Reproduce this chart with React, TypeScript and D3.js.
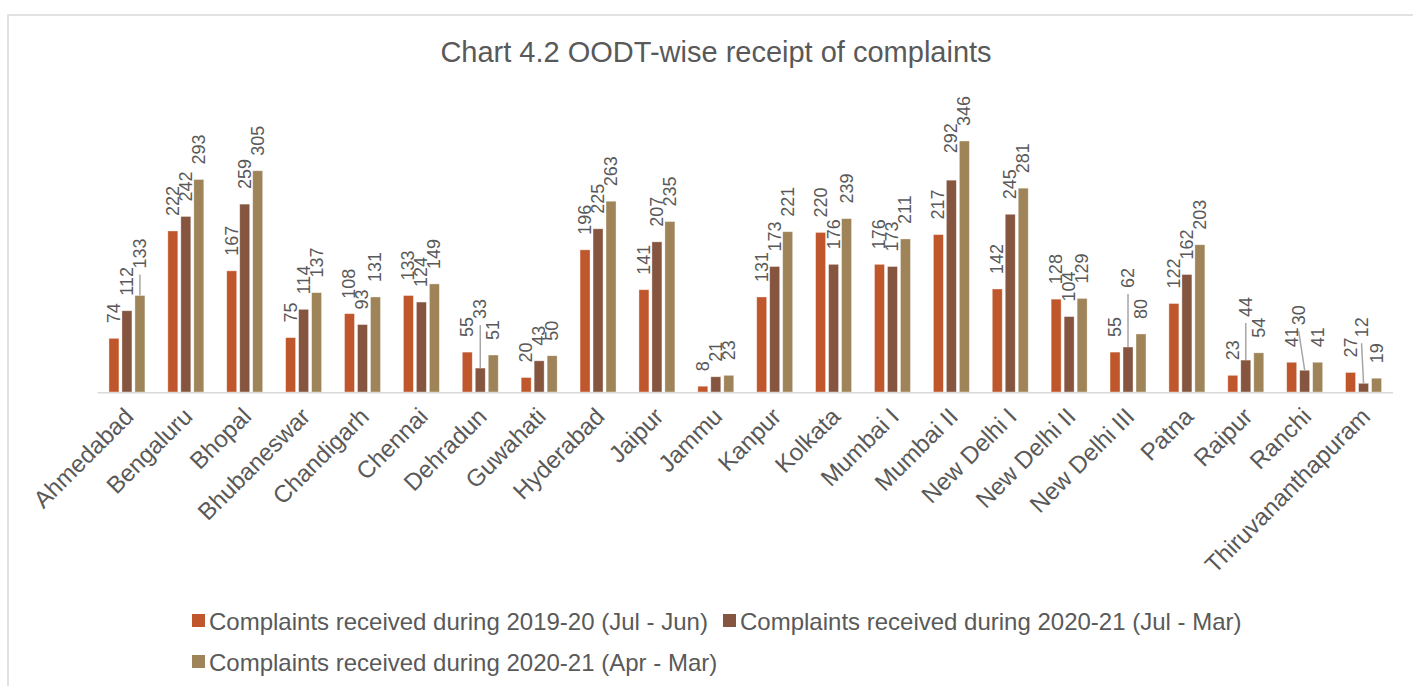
import React from "react";
import * as d3 from "d3";

const categories = [
  "Ahmedabad", "Bengaluru", "Bhopal", "Bhubaneswar", "Chandigarh", "Chennai",
  "Dehradun", "Guwahati", "Hyderabad", "Jaipur", "Jammu", "Kanpur", "Kolkata",
  "Mumbai I", "Mumbai II", "New Delhi I", "New Delhi II", "New Delhi III",
  "Patna", "Raipur", "Ranchi", "Thiruvananthapuram",
];

const seriesNames = [
  "Complaints received during 2019-20 (Jul - Jun)",
  "Complaints received during 2020-21 (Jul - Mar)",
  "Complaints received during 2020-21 (Apr - Mar)",
];

const s2019 = [74, 222, 167, 75, 108, 133, 55, 20, 196, 141, 8, 131, 220, 176, 217, 142, 128, 55, 122, 23, 41, 27];
const s2020JulMar = [112, 242, 259, 114, 93, 124, 33, 43, 225, 207, 21, 173, 176, 173, 292, 245, 104, 62, 162, 44, 30, 12];
const s2020AprMar = [133, 293, 305, 137, 131, 149, 51, 50, 263, 235, 23, 221, 239, 211, 346, 281, 129, 80, 203, 54, 41, 19];

const seriesValues = [s2019, s2020JulMar, s2020AprMar];
const colors = ["#C0572C", "#85553F", "#9E8458"];

// label displacements (layout only), keyed by category and series index
const labelMoves = [
  { cat: "Ahmedabad", s: 2, lift: 12, dx: 0, line: true },
  { cat: "Dehradun", s: 1, lift: 34, dx: 0, line: true },
  { cat: "Mumbai II", s: 1, lift: 12, dx: 0, line: false },
  { cat: "New Delhi III", s: 1, lift: 44, dx: 0, line: true },
  { cat: "Raipur", s: 1, lift: 28, dx: 0, line: true },
  { cat: "Ranchi", s: 1, lift: 30, dx: -6, line: true },
  { cat: "Thiruvananthapuram", s: 1, lift: 31, dx: -2, line: true },
];

const W = 1413;
const H = 686;
const baseY = 392;
const textColor = "#595959";
const font = "'Liberation Sans', Arial, sans-serif";

export default function App() {
  const x0 = d3.scaleBand<string>().domain(categories).range([97.5, 1393]).paddingInner(0.389).paddingOuter(0.1945);
  const x1 = d3.scaleBand<number>().domain([0, 1, 2]).range([0, x0.bandwidth()]).paddingInner(0.23);
  const y = d3.scaleLinear().domain([0, 346]).range([baseY, 141]);

  const bars: React.ReactNode[] = [];
  const labels: React.ReactNode[] = [];
  categories.forEach((c, i) => {
    seriesValues.forEach((vals, s) => {
      const v = vals[i];
      const bx = (x0(c) as number) + (x1(s) as number);
      const bw = x1.bandwidth();
      const top = y(v);
      const cx = bx + bw / 2;
      bars.push(
        <rect key={`b${i}-${s}`} x={bx} y={top} width={bw} height={baseY - top}
          fill={colors[s]} stroke="#ffffff" strokeOpacity={0.5} strokeWidth={0.75} />
      );
      const mv = labelMoves.find((m) => m.cat === c && m.s === s);
      const lift = mv ? mv.lift : 0;
      const dx = mv ? mv.dx : 0;
      const ly = top - 15 - lift;
      const lx = cx + dx;
      if (mv && mv.line) {
        labels.push(
          <line key={`l${i}-${s}`} x1={cx} y1={top} x2={lx} y2={ly + 6}
            stroke="#A6A6A6" strokeWidth={1.5} />
        );
      }
      labels.push(
        <text key={`t${i}-${s}`} transform={`translate(${lx},${ly}) rotate(-90)`}
          textAnchor="start" dominantBaseline="central" fontSize={18}
          fill={textColor} fontFamily={font}>{v}</text>
      );
    });
  });

  return (
    <div style={{ position: "absolute", left: 0, top: 0 }}>
      <svg width={W} height={H} style={{ display: "block", background: "#fff" }}>
        <rect x={8} y={15} width={1500} height={800} fill="#fff" stroke="#D9D9D9" strokeWidth={1.5} />
        <text x={716} y={62} textAnchor="middle" fontSize={29} fill={textColor} fontFamily={font}>
          Chart 4.2 OODT-wise receipt of complaints
        </text>
        {bars}
        <line x1={97.5} x2={1393} y1={baseY + 0.75} y2={baseY + 0.75} stroke="#D9D9D9" strokeWidth={1.5} />
        {labels}
        {categories.map((c) => {
          const cx = (x0(c) as number) + x0.bandwidth() / 2;
          return (
            <text key={`c${c}`} transform={`translate(${cx + 8},${418}) rotate(-45)`}
              textAnchor="end" fontSize={24} fill={textColor} fontFamily={font}>{c}</text>
          );
        })}
        {seriesNames.map((n, s) => {
          const pos = [
            { x: 192, y: 621 },
            { x: 723, y: 621 },
            { x: 192, y: 662 },
          ][s];
          return (
            <g key={`lg${s}`}>
              <rect x={pos.x} y={pos.y - 7} width={13} height={13} fill={colors[s]} />
              <text x={pos.x + 17} y={pos.y + 8.5} fontSize={24} fill={textColor} fontFamily={font}>{n}</text>
            </g>
          );
        })}
      </svg>
    </div>
  );
}
